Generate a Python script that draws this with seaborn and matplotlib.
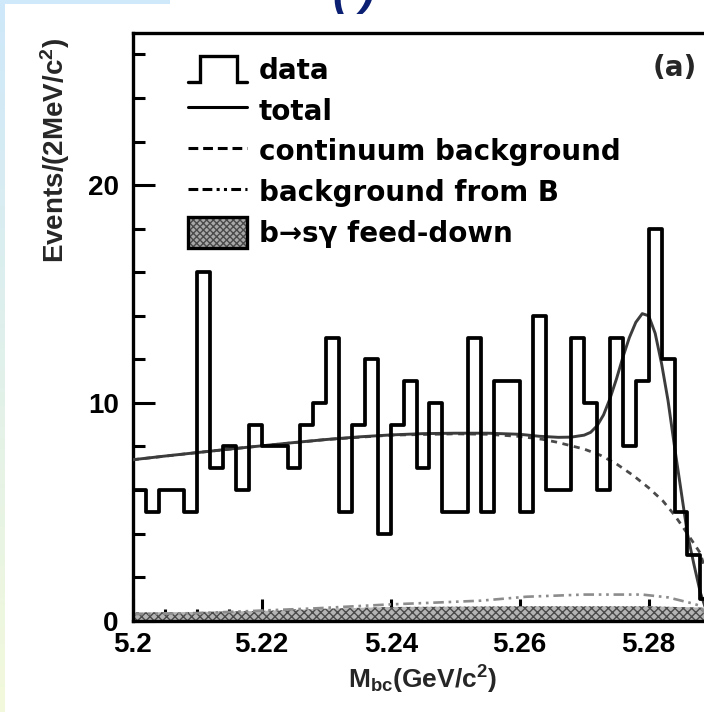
import numpy as np
import pandas as pd
import matplotlib
matplotlib.use("Agg")
import matplotlib.pyplot as plt
import seaborn as sns
from matplotlib.lines import Line2D
from matplotlib.patches import Patch, Rectangle
from matplotlib.legend_handler import HandlerBase, HandlerTuple
from matplotlib.ticker import MultipleLocator
from matplotlib.font_manager import FontProperties

# ---------------- data ----------------
bin_start = 5.200
bin_width = 0.002
data_counts = [6, 5, 6, 6, 5, 16, 7, 8, 6, 9, 8, 8, 7, 9, 10, 13, 5, 9, 12, 4,
               9, 11, 7, 10, 5, 5, 13, 5, 11, 11, 5, 14, 6, 6, 13, 10, 6, 13, 8, 11,
               18, 12, 5, 3, 1]

total_x = [5.200, 5.205, 5.210, 5.215, 5.220, 5.225, 5.230, 5.235, 5.240, 5.245,
           5.250, 5.255, 5.260, 5.263, 5.266, 5.268, 5.270, 5.271, 5.272, 5.273,
           5.274, 5.275, 5.276, 5.277, 5.278, 5.279, 5.280, 5.281, 5.282, 5.283,
           5.284, 5.285, 5.286, 5.287, 5.288, 5.289, 5.2895]
total_y = [7.39, 7.56, 7.72, 7.88, 8.03, 8.18, 8.32, 8.44, 8.53, 8.59,
           8.61, 8.61, 8.56, 8.47, 8.42, 8.43, 8.52, 8.65, 8.95, 9.45,
           10.2, 11.1, 12.1, 13.0, 13.7, 14.1, 14.0, 13.2, 11.8, 10.1,
           8.0, 6.0, 4.0, 2.6, 1.3, 0.4, 0.0]

cont_x = [5.200, 5.210, 5.220, 5.230, 5.240, 5.250, 5.255, 5.260, 5.2635, 5.2657,
          5.268, 5.270, 5.2725, 5.275, 5.2776, 5.280, 5.2822, 5.284, 5.2853, 5.287,
          5.288, 5.2888, 5.2895]
cont_y = [7.39, 7.72, 8.03, 8.32, 8.52, 8.58, 8.56, 8.46, 8.33, 8.20,
          8.03, 7.88, 7.60, 7.20, 6.67, 6.10, 5.50, 4.85, 4.30, 3.55,
          3.10, 2.30, 0.0]

bgB_x = [5.200, 5.210, 5.2155, 5.2285, 5.240, 5.246, 5.254, 5.261, 5.270, 5.279,
         5.283, 5.2867, 5.2878, 5.289, 5.2895]
bgB_y = [0.30, 0.35, 0.41, 0.57, 0.75, 0.82, 0.92, 1.10, 1.20, 1.20,
         1.07, 0.80, 0.70, 0.25, 0.0]

feed_x = [5.200, 5.210, 5.220, 5.230, 5.240, 5.260, 5.280, 5.2885, 5.2895]
feed_y = [0.38, 0.40, 0.45, 0.55, 0.63, 0.66, 0.66, 0.60, 0.0]

x_ticks = [5.20, 5.22, 5.24, 5.26, 5.28]
x_tick_labels = ["5.2", "5.22", "5.24", "5.26", "5.28"]
y_ticks = [0, 10, 20]
y_tick_labels = ["0", "10", "20"]

legend_labels = ["data", "total", "continuum background", "background from B",
                 "b\u2192s\u03b3 feed-down"]

# ---------------- style ----------------
sns.set_theme(style="ticks")
plt.rcParams["font.family"] = ["Liberation Sans", "DejaVu Sans"]
plt.rcParams["font.weight"] = "bold"
plt.rcParams["mathtext.fontset"] = "custom"
plt.rcParams["mathtext.rm"] = "Liberation Sans:bold"
plt.rcParams["mathtext.bf"] = "Liberation Sans:bold"
plt.rcParams["mathtext.it"] = "Liberation Sans:bold"
plt.rcParams["hatch.linewidth"] = 1.0

W, H = 704, 712
fig = plt.figure(figsize=(W / 100, H / 100), dpi=100)
fig.patch.set_facecolor("white")

# decorative slide remnants
grad_top = np.array([0.81, 0.91, 0.98])
grad_bot = np.array([0.95, 0.975, 0.86])
t = np.linspace(0, 1, 200)[:, None]
grad = (grad_top[None, :] * (1 - t) + grad_bot[None, :] * t)[:, None, :]
sax = fig.add_axes([0, 0, 5 / W, 1])
sax.imshow(grad, aspect="auto")
sax.axis("off")
fig.add_artist(Rectangle((0, 1 - 4 / H), 170 / W, 4 / H, transform=fig.transFigure,
                         facecolor="#cfe9fb", edgecolor="none"))
fig.text(333 / W, 1 - 14 / H, "( )", fontsize=32, color="#0b1f73",
         fontstyle="italic", ha="left", va="bottom")

# axes geometry (px): left 132.7, bottom 620.7, top 32.7, 6450 px per GeV
ax_l, ax_b, ax_t = 132.7, 620.7, 32.7
ax_w = 0.09 * 6450
ax = fig.add_axes([ax_l / W, (H - ax_b) / H, ax_w / W, (ax_b - ax_t) / H])
ax.set_facecolor("white")

edges = [float(e) for e in bin_start + bin_width * np.arange(len(data_counts) + 1)]
centers = [e + bin_width / 2 for e in edges[:-1]]
hist_df = pd.DataFrame({"m": centers, "n": data_counts})

# feed-down band
ax.fill_between(feed_x, 0, feed_y, facecolor="#b4b4b4", edgecolor="#4a4a4a",
                hatch="xxxx", linewidth=0, zorder=1)

# background from B
sns.lineplot(x=bgB_x, y=bgB_y, ax=ax, color="#8c8c8c", lw=1.9,
             estimator=None, sort=False, zorder=2)
ax.lines[-1].set_linestyle((0, (4, 1.8, 1, 1.8, 1, 1.8)))

# continuum
sns.lineplot(x=cont_x, y=cont_y, ax=ax, color="#4a4a4a", lw=2.0,
             estimator=None, sort=False, zorder=3)
ax.lines[-1].set_linestyle((0, (2.2, 2.0)))

# total
sns.lineplot(x=total_x, y=total_y, ax=ax, color="#3c3c3c", lw=2.1,
             estimator=None, sort=False, zorder=4)

# data histogram
sns.histplot(data=hist_df, x="m", weights="n", bins=edges, element="step",
             fill=False, color="black", linewidth=2.7, ax=ax, zorder=5)

ax.set_xlim(5.2, 5.29)
ax.set_ylim(0, 27)
ax.set_xticks(x_ticks, labels=x_tick_labels)
ax.set_yticks(y_ticks, labels=y_tick_labels)
ax.xaxis.set_minor_locator(MultipleLocator(0.005))
ax.yaxis.set_minor_locator(MultipleLocator(2))
ax.tick_params(which="both", direction="in", top=False, right=False,
               width=2.2, color="black", labelsize=20, labelcolor="black")
ax.tick_params(which="major", length=16)
ax.tick_params(which="minor", length=8.5)
ax.tick_params(axis="x", pad=8)
ax.tick_params(axis="y", pad=10)
for lbl in ax.get_xticklabels() + ax.get_yticklabels():
    lbl.set_fontweight("bold")
for side in ["left", "bottom", "top"]:
    ax.spines[side].set_linewidth(2.4)
    ax.spines[side].set_color("black")
ax.spines["right"].set_visible(False)

ax.set_xlabel(r"M$_{\mathrm{bc}}$(GeV/c$^{2}$)", fontsize=19, fontweight="bold")
ax.set_ylabel(r"Events/(2MeV/c$^{2}$)", fontsize=20, fontweight="bold")
ax.xaxis.set_label_coords((422 - ax_l) / ax_w, (ax_b - 664) / (ax_b - ax_t))
ax.yaxis.set_label_coords((72 - ax_l) / ax_w, (ax_b - 150) / (ax_b - ax_t))

ax.text((675 - ax_l) / ax_w, (ax_b - 68) / (ax_b - ax_t), "(a)",
        transform=ax.transAxes, ha="center", va="center",
        fontsize=20, fontweight="bold", family="DejaVu Sans")


# ---------------- legend ----------------
class StepHandler(HandlerBase):
    def create_artists(self, legend, orig_handle, xdescent, ydescent,
                       width, height, fontsize, trans):
        x0, y0 = -xdescent, -ydescent
        xs = x0 + width * np.array([0.0, 0.2, 0.2, 0.83, 0.83, 1.0])
        ys = y0 + height * np.array([0.08, 0.08, 0.92, 0.92, 0.08, 0.08])
        ln = Line2D(xs, ys, color="black", lw=2.4, transform=trans,
                    solid_joinstyle="miter")
        return [ln]


h_data = Line2D([], [], color="black")
h_total = Line2D([], [], color="black", lw=2.2)
h_cont = Line2D([], [], color="black", lw=2.2, linestyle=(0, (3.2, 1.6)))
h_bgB = Line2D([], [], color="black", lw=2.2,
               linestyle=(0, (3.2, 1.4, 3.2, 1.4, 1.0, 1.4, 1.0, 1.4)))
h_feed = (Patch(facecolor="#a8a8a8", edgecolor="#4a4a4a", hatch="xxxxx", linewidth=0),
          Patch(facecolor="none", edgecolor="black", linewidth=2.4))

leg_font = FontProperties(family="DejaVu Sans", weight="bold", size=20)
leg = ax.legend([h_data, h_total, h_cont, h_bgB, h_feed], legend_labels,
                handler_map={h_data: StepHandler(), tuple: HandlerTuple(ndivide=1, pad=0)},
                loc="upper left",
                bbox_to_anchor=((188 - ax_l) / ax_w, (ax_b - 54) / (ax_b - ax_t)),
                borderpad=0, borderaxespad=0, frameon=False, prop=leg_font,
                handlelength=2.12, handleheight=1.33, handletextpad=0.42,
                labelspacing=0.36)
for txt in leg.get_texts():
    txt.set_color("black")

fig.savefig("out.png", dpi=100)
